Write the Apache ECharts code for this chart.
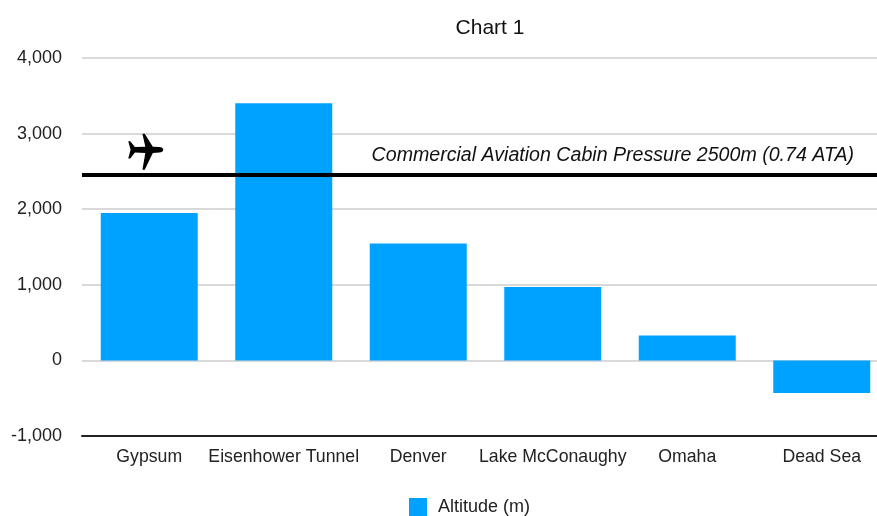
<!DOCTYPE html>
<html>
<head>
<meta charset="utf-8">
<title>Chart 1</title>
<style>
  html, body { margin: 0; padding: 0; background: #fff; overflow: hidden; }
  #chart { width: 877px; height: 516px; }
</style>
<script src="https://cdn.jsdelivr.net/npm/echarts@6/dist/echarts.min.js"></script>
</head>
<body>
<div id="chart"></div>
<script>
const FONT = '"Liberation Sans", Arial, sans-serif'

const categories = ['Gypsum', 'Eisenhower Tunnel', 'Denver', 'Lake McConaughy', 'Omaha', 'Dead Sea']
const altitudes = [1950, 3400, 1545, 970, 330, -430]
const cabinAltitude = 2460
const cabinLabel = 'Commercial Aviation Cabin Pressure 2500m (0.74 ATA)'
const planePosition = ['Gypsum', 2760]

const PLANE_PATH = 'M60 0 L68 0 L96 38 L118 39 C127 39 132 43 132 47 C132 51 127 55 118 55 L96 56 L68 105 L60 105 L70 56 L34 55 L18 72 L11 72 L19 47 L11 22 L18 22 L34 39 L70 38 Z'

const chart = echarts.init(document.getElementById('chart'))

chart.setOption({
  animation: false,
  textStyle: { fontFamily: FONT },
  title: {
    text: 'Chart 1',
    left: 485,
    top: 13,
    textAlign: 'center',
    textStyle: { fontFamily: FONT, fontSize: 21, fontWeight: 'normal', color: '#111' }
  },
  legend: {
    left: 404,
    top: 493,
    itemWidth: 18,
    itemHeight: 18,
    icon: 'rect',
    textStyle: { fontFamily: FONT, fontSize: 18, color: '#222', padding: [3, 0, 0, 6] }
  },
  grid: { left: 82, top: 58, width: 807, height: 378, outerBoundsMode: 'none' },
  xAxis: {
    type: 'category',
    data: categories,
    axisLine: { onZero: false, lineStyle: { color: '#222', width: 2 } },
    axisTick: { show: false },
    axisLabel: { interval: 0, margin: 12, fontFamily: FONT, fontSize: 17.7, color: '#222' }
  },
  yAxis: {
    type: 'value',
    min: -1000,
    max: 4000,
    interval: 1000,
    axisLine: { show: false },
    axisTick: { show: false },
    axisLabel: {
      margin: 20,
      fontFamily: FONT,
      fontSize: 18,
      color: '#222',
      formatter: v => v.toLocaleString('en-US')
    },
    splitLine: { lineStyle: { color: '#d9d9d9', width: 2 } }
  },
  series: [{
    name: 'Altitude (m)',
    type: 'bar',
    data: altitudes,
    barWidth: 97,
    itemStyle: { color: '#00a2ff' },
    markLine: {
      silent: true,
      symbol: 'none',
      data: [{ yAxis: cabinAltitude }],
      lineStyle: { color: '#000', width: 4, type: 'solid' },
      label: {
        formatter: cabinLabel,
        position: 'insideEndTop',
        distance: [35, 9],
        fontFamily: FONT,
        fontSize: 19.6,
        fontStyle: 'italic',
        color: '#111'
      }
    },
    markPoint: {
      silent: true,
      symbol: 'path://' + PLANE_PATH,
      symbolSize: [35, 36],
      symbolKeepAspect: false,
      symbolOffset: [-3.5, 0],
      itemStyle: { color: '#000' },
      label: { show: false },
      data: [{ coord: planePosition }]
    }
  }]
})
</script>
</body>
</html>
